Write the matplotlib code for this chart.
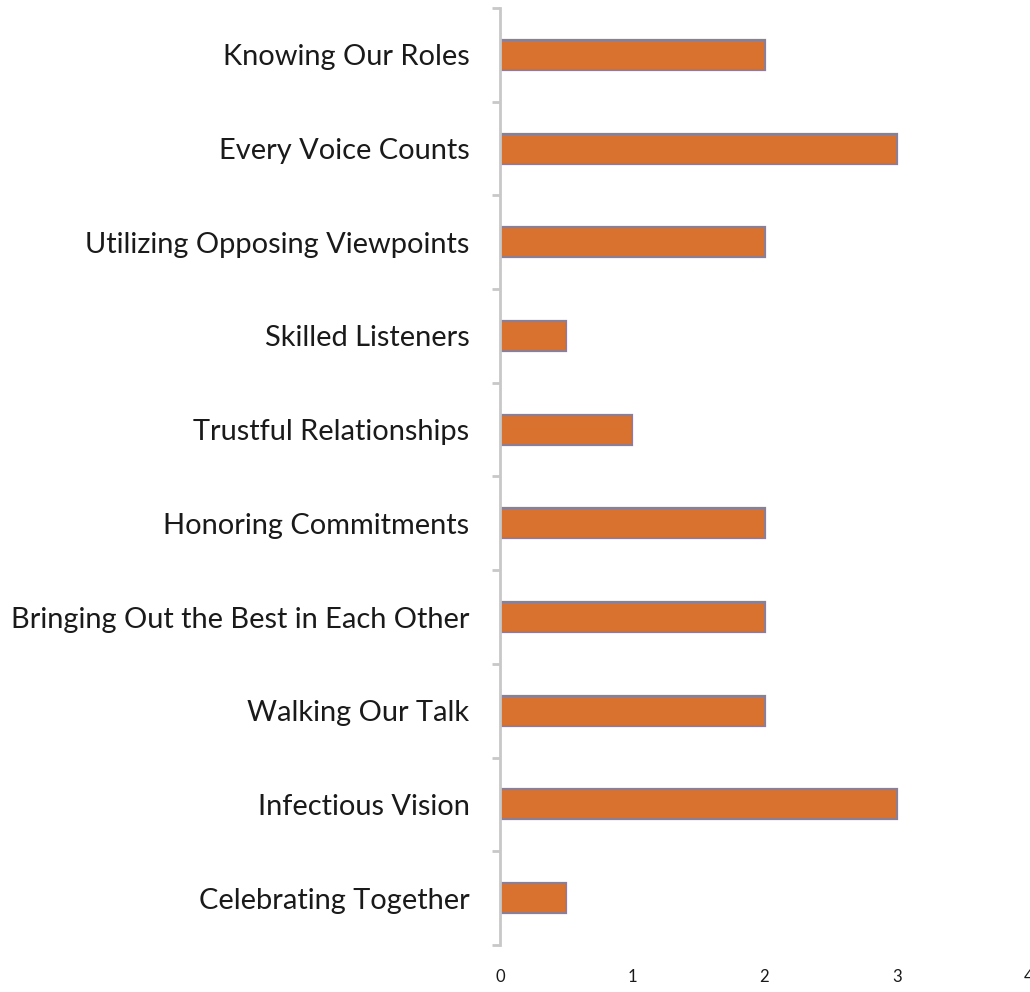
import matplotlib
matplotlib.use("Agg")
import matplotlib.pyplot as plt
import numpy as np

categories = ["Knowing Our Roles", "Every Voice Counts", "Utilizing Opposing Viewpoints",
              "Skilled Listeners", "Trustful Relationships", "Honoring Commitments",
              "Bringing Out the Best in Each Other", "Walking Our Talk",
              "Infectious Vision", "Celebrating Together"]
values = [2, 3, 2, 0.5, 1, 2, 2, 2, 3, 0.5]
xticks = [0, 1, 2, 3, 4]

plt.rcParams['font.family'] = ['Lato', 'DejaVu Sans']
fig = plt.figure(figsize=(10.3, 9.92), dpi=100)
ax = fig.add_axes([500/1030, 1-945/992, 529/1030, 937/992])

y = np.arange(len(categories))
ax.barh(y, values, height=0.32, color='#D9722F', edgecolor='#8C7F95', linewidth=1.6)
ax.set_ylim(len(categories)-0.5, -0.5)
ax.set_xlim(0, 4)
ax.set_yticks(y)
ax.set_yticklabels(categories, fontsize=20.9, color='#1a1a1a')
ax.set_yticks(np.arange(-0.5, len(categories)), minor=True)
ax.tick_params(axis='y', which='major', length=0, pad=22)
ax.tick_params(axis='y', which='minor', length=6, width=2, color='#c8c8c8', direction='out')
ax.set_xticks(xticks)
ax.set_xticklabels([str(t) for t in xticks], fontsize=12, color='#1a1a1a')
ax.tick_params(axis='x', length=0, pad=17)
for s in ['top', 'right', 'bottom']:
    ax.spines[s].set_visible(False)
ax.spines['left'].set_color('#c8c8c8')
ax.spines['left'].set_linewidth(2)
for lab in ax.get_xticklabels():
    lab.set_clip_on(False)

fig.savefig("out.png", dpi=100)
